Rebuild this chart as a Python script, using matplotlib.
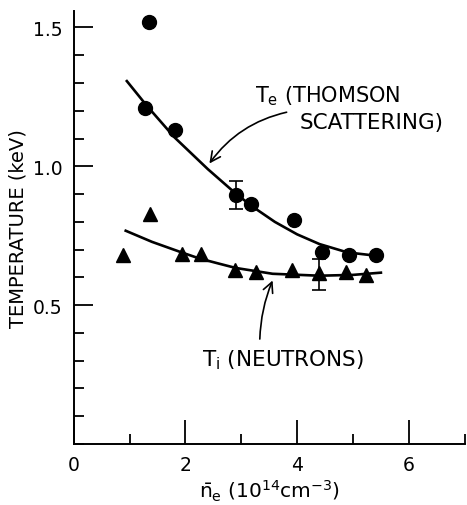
import matplotlib.pyplot as plt
from matplotlib.ticker import MultipleLocator

plt.rcParams['font.family'] = 'DejaVu Sans'
plt.rcParams['mathtext.fontset'] = 'dejavusans'

# electron temperature (Thomson scattering), circles
te_x = [1.34, 1.27, 1.82, 2.90, 3.18, 3.94, 4.45, 4.92, 5.42]
te_y = [1.52, 1.21, 1.13, 0.895, 0.866, 0.805, 0.693, 0.679, 0.679]

# ion temperature (neutrons), triangles
ti_x = [0.89, 1.36, 1.93, 2.27, 2.88, 3.27, 3.90, 4.40, 4.88, 5.24]
ti_y = [0.682, 0.83, 0.685, 0.685, 0.628, 0.621, 0.625, 0.614, 0.621, 0.610]

# hand drawn fit curves
te_fit_x = [0.95, 1.3, 1.8, 2.4, 2.9, 3.2, 3.6, 4.0, 4.4, 4.9, 5.5]
te_fit_y = [1.307, 1.22, 1.105, 0.99, 0.902, 0.855, 0.80, 0.755, 0.72, 0.69, 0.676]
ti_fit_x = [0.93, 1.4, 1.93, 2.25, 2.61, 2.9, 3.56, 4.4, 5.0, 5.5]
ti_fit_y = [0.768, 0.728, 0.69, 0.668, 0.649, 0.634, 0.613, 0.606, 0.609, 0.617]

# representative error bars
err_x = [2.90, 4.40]
err_lo = [0.845, 0.556]
err_hi = [0.946, 0.668]

fig = plt.figure(figsize=(4.67, 5.06), dpi=100)
ax = fig.add_axes([0.158, 0.1206, 0.837, 0.856])

ax.plot(te_fit_x, te_fit_y, color='black', lw=1.9)
ax.plot(ti_fit_x, ti_fit_y, color='black', lw=1.9)
ax.plot(te_x, te_y, 'o', color='black', ms=10)
ax.plot(ti_x, ti_y, '^', color='black', ms=9.5)

for x, lo, hi in zip(err_x, err_lo, err_hi):
    mid = (lo + hi) / 2
    ax.errorbar([x], [mid], yerr=[[mid - lo], [hi - mid]], fmt='none',
                ecolor='black', elinewidth=1.2, capsize=5, capthick=1.2)

ax.set_xlim(0, 7)
ax.set_ylim(0, 1.56)
ax.spines['top'].set_visible(False)
ax.spines['right'].set_visible(False)
for s in ['left', 'bottom']:
    ax.spines[s].set_linewidth(1.4)

ax.xaxis.set_major_locator(MultipleLocator(2))
ax.xaxis.set_minor_locator(MultipleLocator(1))
ax.yaxis.set_major_locator(MultipleLocator(0.5))
ax.yaxis.set_minor_locator(MultipleLocator(0.1))
ax.tick_params(which='major', direction='in', length=14, width=1.3, labelsize=13.5, pad=8)
ax.tick_params(which='minor', direction='in', length=7, width=1.3)
ax.set_xticks([0, 2, 4, 6])
ax.set_xticklabels(['0', '2', '4', '6'])
ax.set_yticks([0.5, 1.0, 1.5])
ax.set_yticklabels(['0.5', '1.0', '1.5'])
ax.tick_params(axis='x', which='major', length=17)

ax.set_ylabel('TEMPERATURE (keV)', fontsize=14, labelpad=4)
ax.set_xlabel(r'$\bar{\mathregular{n}}_\mathregular{e}$ (10$^{14}$cm$^{-3}$)', fontsize=14.5, labelpad=3)

ax.text(3.24, 1.255, r'T$_\mathregular{e}$ (THOMSON', fontsize=15, va='center')
ax.text(4.04, 1.16, 'SCATTERING)', fontsize=15.5, va='center')
ax.text(2.29, 0.305, r'T$_\mathregular{i}$ (NEUTRONS)', fontsize=15.5, va='center')

ax.annotate('', xy=(2.40, 1.002), xytext=(3.86, 1.197),
            arrowprops=dict(arrowstyle='->', color='black', lw=1.2,
                            connectionstyle='arc3,rad=0.2', mutation_scale=18))
ax.annotate('', xy=(3.58, 0.598), xytext=(3.33, 0.368),
            arrowprops=dict(arrowstyle='->', color='black', lw=1.2,
                            connectionstyle='arc3,rad=-0.1', mutation_scale=18))

fig.savefig('out.png', dpi=100)
